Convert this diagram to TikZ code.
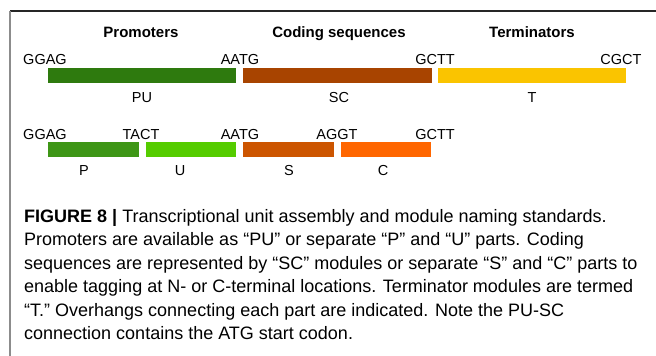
\documentclass[tikz,border=0pt]{standalone}
\usepackage{fontspec}
\setmainfont{Liberation Sans}
\usepackage{tikz}
\usetikzlibrary{positioning}
\definecolor{pucol}{RGB}{46,122,14}
\definecolor{sccol}{RGB}{168,68,0}
\definecolor{tcol}{RGB}{250,196,0}
\definecolor{pcol}{RGB}{62,150,22}
\definecolor{ucol}{RGB}{85,204,0}
\definecolor{scol}{RGB}{204,85,0}
\definecolor{ccol}{RGB}{255,102,0}

\begin{document}
\begin{tikzpicture}[
        x=1pt, y=-1pt,
        heading/.style={font=\fontsize{15}{17}\selectfont\bfseries, anchor=base, inner sep=0pt},
        ohang/.style={font=\fontsize{14.5}{16}\selectfont, anchor=base, inner sep=0pt},
        lbl/.style={font=\fontsize{14.5}{16}\selectfont, anchor=base, inner sep=0pt},
        part/.style={rectangle, draw=none, minimum height=15pt, inner sep=0pt, anchor=north west},
        captxt/.style={font=\fontsize{18}{21}\selectfont, anchor=base west, inner sep=0pt},
    ]
    \useasboundingbox (0,0) rectangle (656,356);
    \coordinate (TL) at (10,11);
    \coordinate (TR) at (656,11);
    \coordinate (BL) at (10,356);
    \draw[black!85, line width=1.2pt] (TL) -- (TR);
    \draw[black!45, line width=1.6pt] (TL) -- (BL);

    % group headings
    \node[heading] (hP) at (141,37) {Promoters};
    \node[heading] (hS) at (339,37) {Coding sequences};
    \node[heading] (hT) at (532,37) {Terminators};

    % first row: PU - SC - T
    \node[ohang] (o1) at (45,64)  {GGAG};
    \node[ohang] (o2) at (240,64) {AATG};
    \node[ohang] (o3) at (435,64) {GCTT};
    \node[ohang] (o4) at (621,64) {CGCT};
    \node[part, fill=pucol, minimum width=188pt] (PU) at (48,68)  {};
    \node[part, fill=sccol, minimum width=189pt] (SC) at (243,68) {};
    \node[part, fill=tcol,  minimum width=188pt] (T)  at (438,68) {};
    \node[lbl] (lPU) at (142,102) {PU};
    \node[lbl] (lSC) at (339,102) {SC};
    \node[lbl] (lT)  at (532,102) {T};

    % second row: P - U - S - C
    \node[ohang] (q1) at (45,139)  {GGAG};
    \node[ohang] (q2) at (141,139) {TACT};
    \node[ohang] (q3) at (240,139) {AATG};
    \node[ohang] (q4) at (337,139) {AGGT};
    \node[ohang] (q5) at (435,139) {GCTT};
    \node[part, fill=pcol, minimum width=91pt] (P) at (48,142)  {};
    \node[part, fill=ucol, minimum width=90pt] (U) at (146,142) {};
    \node[part, fill=scol, minimum width=91pt] (S) at (243,142) {};
    \node[part, fill=ccol, minimum width=90pt] (C) at (341,142) {};
    \node[lbl] (lP) at (84,175)  {P};
    \node[lbl] (lU) at (180,175) {U};
    \node[lbl] (lS) at (289,175) {S};
    \node[lbl] (lC) at (383,175) {C};

    % caption
    \node[captxt] (cap1) at (24,222)   {\textbf{FIGURE 8 |} Transcriptional unit assembly and module naming standards.};
    \node[captxt] (cap2) at (24,245.5) {Promoters are available as “PU” or separate “P” and “U” parts. Coding};
    \node[captxt] (cap3) at (24,269)   {sequences are represented by “SC” modules or separate “S” and “C” parts to};
    \node[captxt] (cap4) at (24,292.5) {enable tagging at N- or C-terminal locations. Terminator modules are termed};
    \node[captxt] (cap5) at (24,316)   {“T.” Overhangs connecting each part are indicated. Note the PU-SC};
    \node[captxt] (cap6) at (24,339.5) {connection contains the ATG start codon.};
\end{tikzpicture}
\end{document}
